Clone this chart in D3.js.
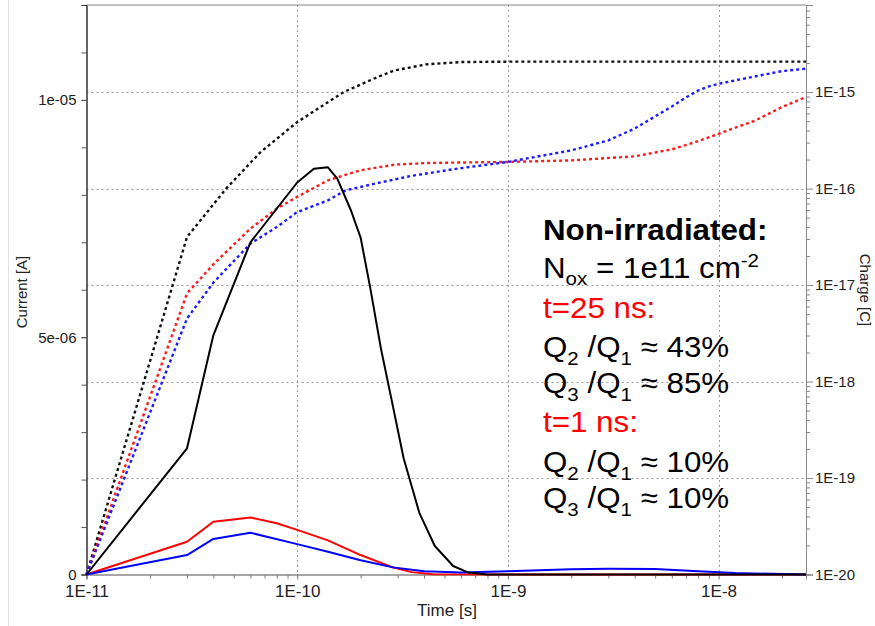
<!DOCTYPE html>
<html>
<head>
<meta charset="utf-8">
<script src="https://cdn.jsdelivr.net/npm/d3@7"></script>
<style>
body { margin: 0; background: #fff; }
text { font-family: "Liberation Sans", Arial, sans-serif; }
</style>
</head>
<body>
<script>
// ---- data ----
var timeTicks = [1e-11, 1e-10, 1e-9, 1e-8];
var timeLabels = ["1E-11", "1E-10", "1E-9", "1E-8"];
var currentTicks = [0, 5e-6, 1e-5];
var currentLabels = ["0", "5e-06", "1e-05"];
var chargeTicks = [1e-20, 1e-19, 1e-18, 1e-17, 1e-16, 1e-15];
var chargeLabels = ["1E-20", "1E-19", "1E-18", "1E-17", "1E-16", "1E-15"];

// currents [A]
var blackCurT = [1e-11, 3e-11, 4e-11, 6e-11, 1e-10, 1.2e-10, 1.4e-10, 1.55e-10, 1.8e-10, 2e-10, 2.22e-10, 2.5e-10, 2.8e-10, 3.2e-10, 3.8e-10, 4.5e-10, 5.5e-10, 6.5e-10, 8e-10, 2.6e-8];
var blackCur = [0, 2.66e-6, 5.04e-6, 7.0e-6, 8.26e-6, 8.55e-6, 8.58e-6, 8.34e-6, 7.67e-6, 7.1e-6, 6.05e-6, 4.75e-6, 3.7e-6, 2.45e-6, 1.3e-6, 0.6e-6, 0.18e-6, 0.04e-6, 0, 0];

var redCurT = [1e-11, 3e-11, 4e-11, 6e-11, 8e-11, 1e-10, 1.4e-10, 2e-10, 2.8e-10, 3.5e-10, 4.4e-10, 1e-9, 2.6e-8];
var redCur = [0, 0.69e-6, 1.11e-6, 1.2e-6, 1.08e-6, 0.94e-6, 0.72e-6, 0.41e-6, 0.16e-6, 0.05e-6, 0.005e-6, 0, 0];

var blueCurT = [1e-11, 3e-11, 4e-11, 6e-11, 1e-10, 1.4e-10, 2e-10, 2.85e-10, 4e-10, 6e-10, 1e-9, 2e-9, 3e-9, 5e-9, 8e-9, 1.2e-8, 2e-8, 2.6e-8];
var blueCur = [0, 0.41e-6, 0.75e-6, 0.88e-6, 0.64e-6, 0.48e-6, 0.3e-6, 0.15e-6, 0.07e-6, 0.04e-6, 0.07e-6, 0.11e-6, 0.12e-6, 0.115e-6, 0.07e-6, 0.03e-6, 0.01e-6, 0];

// charges [C]
var blackQT = [1e-11, 3e-11, 4.6e-11, 6.7e-11, 1e-10, 1.66e-10, 2.4e-10, 2.9e-10, 4.1e-10, 6e-10, 1e-9, 2.6e-8];
var blackQ = [1e-20, 3.15e-17, 1e-16, 2.39e-16, 4.89e-16, 1e-15, 1.43e-15, 1.68e-15, 1.94e-15, 2.05e-15, 2.07e-15, 2.07e-15];

var redQT = [1e-11, 3e-11, 4e-11, 6e-11, 8e-11, 1e-10, 1.4e-10, 2e-10, 2.9e-10, 4.1e-10, 5.6e-10, 1e-9, 2e-9, 4e-9, 6e-9, 8e-9, 1e-8, 1.5e-8, 2e-8, 2.6e-8];
var redQ = [1e-20, 8.2e-18, 1.64e-17, 3.85e-17, 6.2e-17, 8.2e-17, 1.22e-16, 1.55e-16, 1.77e-16, 1.84e-16, 1.86e-16, 1.89e-16, 1.96e-16, 2.16e-16, 2.55e-16, 3.1e-16, 3.7e-16, 5.1e-16, 7.0e-16, 8.9e-16];

var blueQT = [1e-11, 3e-11, 4e-11, 6e-11, 8e-11, 1e-10, 1.4e-10, 1.7e-10, 2.4e-10, 3.45e-10, 5.75e-10, 1e-9, 2e-9, 3e-9, 4e-9, 5e-9, 6e-9, 7e-9, 8e-9, 9e-9, 1e-8, 1.5e-8, 2e-8, 2.6e-8];
var blueQ = [1e-20, 4.5e-18, 1.06e-17, 2.69e-17, 4.0e-17, 5.7e-17, 7.55e-17, 9.6e-17, 1.14e-16, 1.35e-16, 1.61e-16, 1.89e-16, 2.49e-16, 3.16e-16, 4.2e-16, 5.6e-16, 7.1e-16, 8.8e-16, 1.04e-15, 1.15e-15, 1.22e-15, 1.46e-15, 1.65e-15, 1.75e-15];

// ---- chart ----
var width = 875, height = 626;
var plotL = 86.5, plotR = 806, plotT = 5, plotB = 574.5;

var svg = d3.select('body')
    .append("svg")
    .attr('width', width)
    .attr('height', height);

var x = d3.scaleLog().domain([1e-11, 2.6e-8]).range([plotL, plotR]);
var yCur = d3.scaleLinear().domain([0, 1.2e-5]).range([plotB, plotT]);
var yQ = d3.scaleLog().domain([1e-20, 8e-15]).range([plotB, plotT]);

// faint frame line at far left
svg.append('line')
    .attr('x1', 8.5).attr('x2', 8.5).attr('y1', 0).attr('y2', height)
    .style('stroke', "#e4e4e4");

// grid
svg.append('g').selectAll('line')
    .data(timeTicks.slice(1))
    .enter().append('line')
    .attr('x1', function(d) { return Math.round(x(d)) + 0.5; })
    .attr('x2', function(d) { return Math.round(x(d)) + 0.5; })
    .attr('y1', plotT).attr('y2', plotB)
    .style('stroke', "#999")
    .style('stroke-dasharray', "2,3");

svg.append('g').selectAll('line')
    .data(chargeTicks.slice(1))
    .enter().append('line')
    .attr('y1', function(d) { return Math.round(yQ(d)) + 0.5; })
    .attr('y2', function(d) { return Math.round(yQ(d)) + 0.5; })
    .attr('x1', plotL).attr('x2', plotR)
    .style('stroke', "#999")
    .style('stroke-dasharray', "2,3");

// top border
svg.append('line')
    .attr('x1', plotL).attr('x2', plotR).attr('y1', plotT).attr('y2', plotT)
    .style('stroke', "#888");

// minor tick values
var timeMinor = [];
[-11, -10, -9, -8].forEach(function(e) {
    for (var m = 2; m <= 9; m++) {
        var v = m * Math.pow(10, e);
        if (v <= 2.6e-8) timeMinor.push(v);
    }
});
var chargeMinor = [];
[-20, -19, -18, -17, -16, -15].forEach(function(e) {
    for (var m = 2; m <= 9; m++) {
        var v = m * Math.pow(10, e);
        if (v <= 8e-15) chargeMinor.push(v);
    }
});
var currentMinor = d3.range(1, 12).map(function(k) { return k * 1e-6; });

function styleAxis(g, lineColor, tickColor) {
    g.select('.domain').style('stroke', lineColor);
    g.selectAll('.tick line').style('stroke', tickColor);
    g.selectAll('.tick text').style('fill', "#222");
}

// bottom axis
svg.append('g')
    .attr('transform', "translate(0," + plotB + ")")
    .call(d3.axisBottom(x).tickValues(timeMinor).tickSize(4).tickFormat(""))
    .call(styleAxis, "#888", "#777");
var xAxis = svg.append('g')
    .attr('transform', "translate(0," + plotB + ")")
    .call(d3.axisBottom(x).tickValues(timeTicks).tickSize(5)
        .tickFormat(function(d, i) { return timeLabels[i]; }))
    .call(styleAxis, "#888", "#777");
xAxis.selectAll('.tick text')
    .attr('y', 22.5).attr('dy', 0)
    .style('font-family', '"Liberation Sans Narrow", "Arial Narrow", sans-serif')
    .style('font-stretch', "condensed")
    .style('font-size', "17px");

// left axis
svg.append('g')
    .attr('transform', "translate(" + plotL + ",0)")
    .call(d3.axisLeft(yCur).tickValues(currentMinor).tickSize(5).tickFormat(""))
    .call(styleAxis, "#333", "#555");
var yAxis = svg.append('g')
    .attr('transform', "translate(" + plotL + ",0)")
    .call(d3.axisLeft(yCur).tickValues(currentTicks).tickSize(5).tickPadding(5)
        .tickFormat(function(d, i) { return currentLabels[i]; }))
    .call(styleAxis, "#333", "#555");
yAxis.selectAll('.tick text').style('font-size', "15px");

// right axis
svg.append('g')
    .attr('transform', "translate(" + plotR + ",0)")
    .call(d3.axisRight(yQ).tickValues(chargeMinor).tickSize(4).tickFormat(""))
    .call(styleAxis, "#888", "#888");
var qAxis = svg.append('g')
    .attr('transform', "translate(" + plotR + ",0)")
    .call(d3.axisRight(yQ).tickValues(chargeTicks).tickSize(7).tickPadding(2)
        .tickFormat(function(d, i) { return chargeLabels[i]; }))
    .call(styleAxis, "#888", "#888");
qAxis.selectAll('.tick text').style('font-size', "15px");

// axis titles
svg.append('text')
    .attr('transform', "translate(27,292) rotate(-90)")
    .attr('text-anchor', "middle")
    .style('font-size', "15px")
    .style('fill', "#222")
    .text("Current [A]");

svg.append('text')
    .attr('transform', "translate(860,290) rotate(90)")
    .attr('text-anchor', "middle")
    .style('font-size', "15px")
    .style('fill', "#222")
    .text("Charge [C]");

svg.append('text')
    .attr('x', 447).attr('y', 616)
    .attr('text-anchor', "middle")
    .style('font-family', '"Liberation Sans Narrow", "Arial Narrow", sans-serif')
    .style('font-stretch', "condensed")
    .style('font-size', "17px")
    .style('fill', "#222")
    .text("Time [s]");

// curves
var curLine = d3.line()
    .x(function(d) { return x(d[0]); })
    .y(function(d) { return yCur(d[1]); });
var qLine = d3.line()
    .x(function(d) { return x(d[0]); })
    .y(function(d) { return yQ(d[1]); });

var charges = [
    { t: blackQT, v: blackQ, color: "#111" },
    { t: redQT, v: redQ, color: "#ff1a1a" },
    { t: blueQT, v: blueQ, color: "#1a1aff" }
];
charges.forEach(function(s) {
    svg.append('path')
        .datum(d3.zip(s.t, s.v))
        .attr('d', qLine)
        .style('fill', "none")
        .style('stroke', s.color)
        .style('stroke-width', 2.4)
        .style('stroke-dasharray', "3,3");
});

var currents = [
    { t: redCurT, v: redCur, color: "#ff0000" },
    { t: blueCurT, v: blueCur, color: "#0000ff" },
    { t: blackCurT, v: blackCur, color: "#000" }
];
currents.forEach(function(s) {
    svg.append('path')
        .datum(d3.zip(s.t, s.v))
        .attr('d', curLine)
        .style('fill', "none")
        .style('stroke', s.color)
        .style('stroke-width', 2)
        .style('stroke-linejoin', "round");
});

// annotation
var note = svg.append('g')
    .attr('transform', "translate(543,0) scale(1.08,1)")
    .style('font-size', "29px");

note.append('text').attr('y', 240).style('font-weight', "bold").text("Non-irradiated:");

var nox = note.append('text').attr('y', 278);
nox.append('tspan').text("N");
nox.append('tspan').attr('dy', 7).style('font-size', "19px").text("ox");
nox.append('tspan').attr('dy', -7).text(" = 1e11 cm");
nox.append('tspan').attr('dy', -11).style('font-size', "19px").text("-2");

function ratioLine(yb, a, b, val) {
    var t = note.append('text').attr('y', yb);
    t.append('tspan').text("Q");
    t.append('tspan').attr('dy', 8).style('font-size', "19px").text(a);
    t.append('tspan').attr('dy', -8).text(" /Q");
    t.append('tspan').attr('dy', 8).style('font-size', "19px").text(b);
    t.append('tspan').attr('dy', -8).text(" \u2248 " + val);
}

note.append('text').attr('y', 318).style('fill', "#ff0000").text("t=25 ns:");
ratioLine(357, "2", "1", "43%");
ratioLine(393, "3", "1", "85%");
note.append('text').attr('y', 432).style('fill', "#ff0000").text("t=1 ns:");
ratioLine(472, "2", "1", "10%");
ratioLine(508, "3", "1", "10%");
</script>
</body>
</html>
